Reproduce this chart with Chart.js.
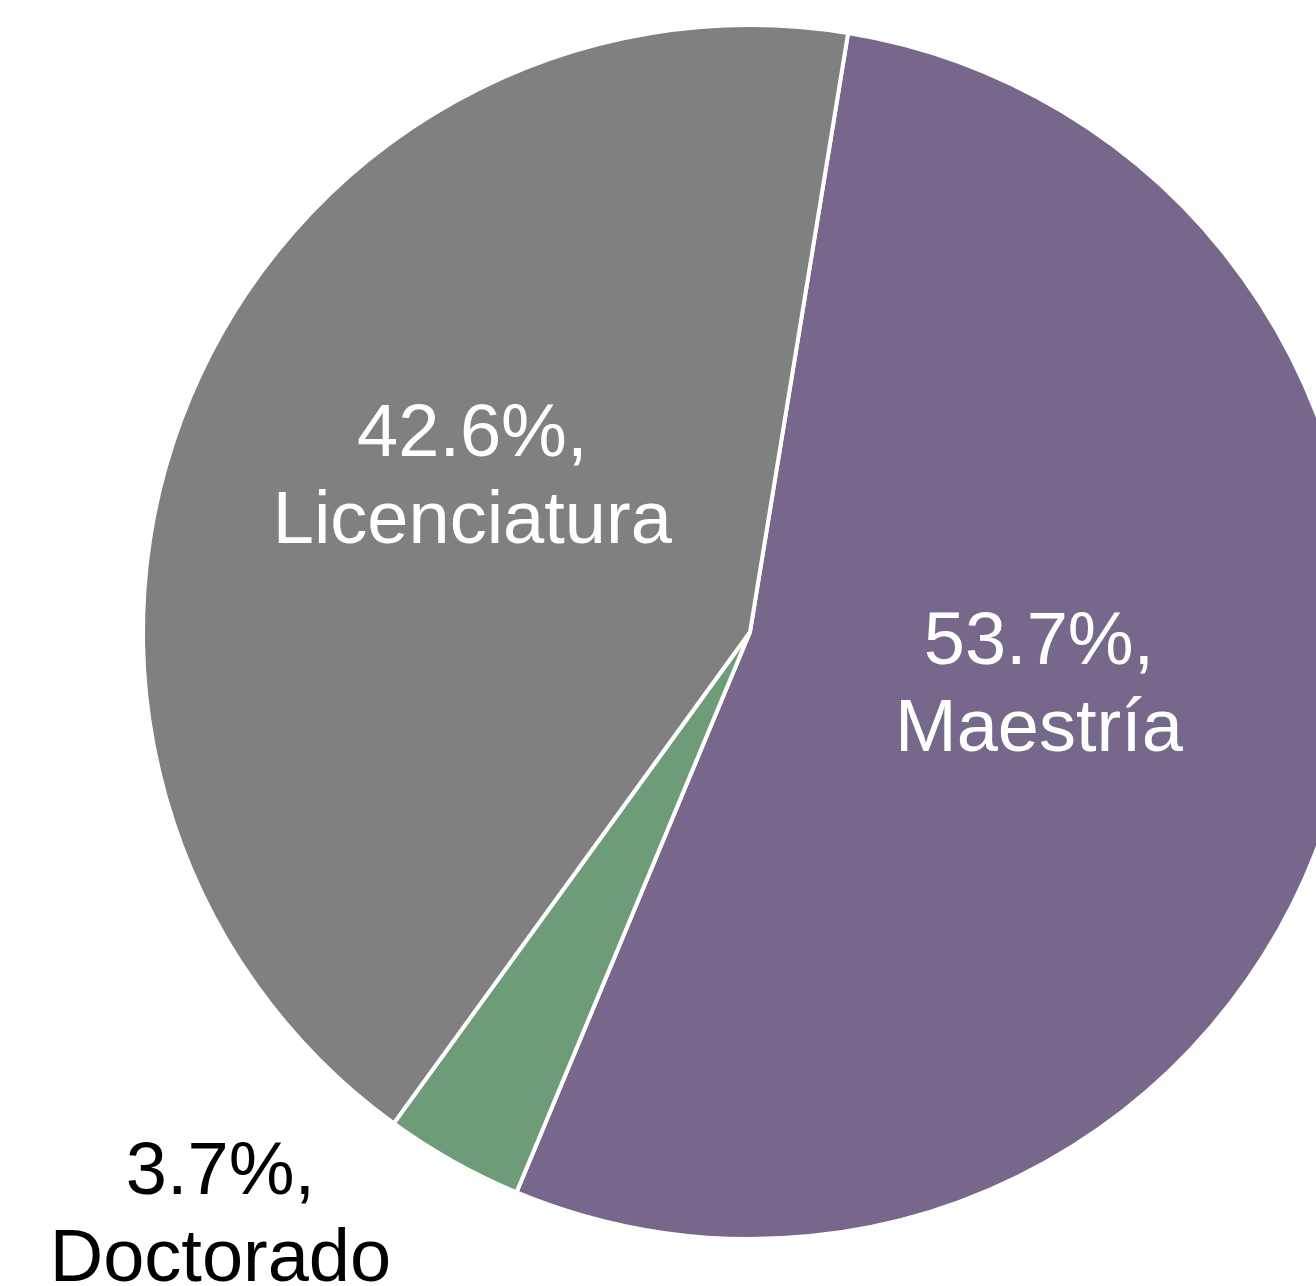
<!DOCTYPE html>
<html>
<head>
<meta charset="utf-8">
<script src="https://cdn.jsdelivr.net/npm/chart.js@4/dist/chart.umd.min.js"></script>
<style>
  html, body { margin: 0; padding: 0; background: #ffffff; overflow: hidden; width: 1316px; height: 1286px; }
  #wrap { position: absolute; left: 0; top: 0; width: 1500px; height: 1286px; }
</style>
</head>
<body>
<div id="wrap"><canvas id="c" width="1500" height="1286"></canvas></div>
<script>
const categories = ["Maestría", "Doctorado", "Licenciatura"];
const percentages = [53.7, 3.7, 42.6];
const sliceColors = ["#76678B", "#6F9C78", "#808080"];
const labelColors = ["#ffffff", "#000000", "#ffffff"];
// label placement: radial factor of radius, angle shift (deg) from slice middle
const labelRadial = [0.492, 1.325, 0.507];
const labelShift = [-1.35, 11.9, 2.9];

const labelPlugin = {
  id: 'sliceLabels',
  afterDatasetsDraw(chart) {
    const ctx = chart.ctx;
    const meta = chart.getDatasetMeta(0);
    ctx.save();
    ctx.font = '74px "Liberation Sans", Arial, sans-serif';
    ctx.textAlign = 'center';
    ctx.textBaseline = 'alphabetic';
    meta.data.forEach((arc, i) => {
      const p = arc.getProps(['x', 'y', 'startAngle', 'endAngle', 'outerRadius'], true);
      const a = (p.startAngle + p.endAngle) / 2 + labelShift[i] * Math.PI / 180;
      const r = p.outerRadius * labelRadial[i];
      const x = p.x + Math.cos(a) * r;
      const y = p.y + Math.sin(a) * r;
      ctx.fillStyle = labelColors[i];
      const line1 = percentages[i].toFixed(1) + '%,';
      const line2 = categories[i];
      ctx.fillText(line1, x, y - 43.5);
      ctx.fillText(line2, x, y + 43.5);
    });
    ctx.restore();
  }
};

new Chart(document.getElementById('c'), {
  type: 'pie',
  data: {
    labels: categories,
    datasets: [{
      data: percentages,
      backgroundColor: sliceColors,
      borderColor: '#ffffff',
      borderWidth: 4
    }]
  },
  options: {
    responsive: false,
    animation: false,
    devicePixelRatio: 1,
    rotation: 9.3,
    layout: { padding: { left: 141, right: 141, top: 23, bottom: 45 } },
    plugins: {
      legend: { display: false },
      tooltip: { enabled: false }
    }
  },
  plugins: [labelPlugin]
});
</script>
</body>
</html>
